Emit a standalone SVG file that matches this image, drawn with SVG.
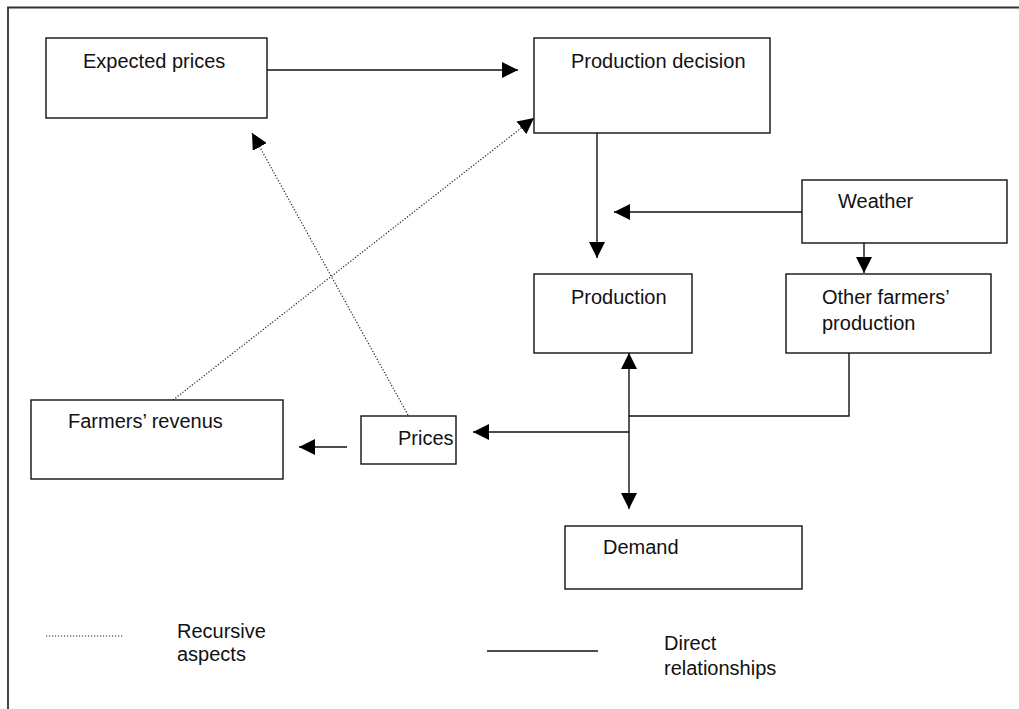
<svg xmlns="http://www.w3.org/2000/svg" width="1019" height="709" viewBox="0 0 1019 709">
<style>
  .box { fill: #fff; stroke: #111; stroke-width: 1.4; }
  .t { font-family: "Liberation Sans", Arial, sans-serif; font-size: 20px; fill: #111; }
  .solid { stroke: #111; stroke-width: 1.4; fill: none; }
  .dot { stroke: #222; stroke-width: 1.2; stroke-dasharray: 1.2 1.8; fill: none; }
  .frame { stroke: #333; stroke-width: 1.8; fill: none; }
</style>
<defs>
  <marker id="ah" markerUnits="userSpaceOnUse" viewBox="0 0 16 16" refX="16" refY="8" markerWidth="16" markerHeight="16" orient="auto">
    <path d="M0,0 L16,8 L0,16 z" fill="#000"/>
  </marker>
  <marker id="ahs" markerUnits="userSpaceOnUse" viewBox="0 0 16 16" refX="0" refY="8" markerWidth="16" markerHeight="16" orient="auto">
    <path d="M16,0 L0,8 L16,16 z" fill="#000"/>
  </marker>
</defs>
<rect width="1019" height="709" fill="#fff"/>
<path class="frame" d="M8,709 L8,7.5 L1019,7.5"/>

<g id="connectors">
  <line class="solid" x1="267" y1="70" x2="518" y2="70" marker-end="url(#ah)"/>
  <line class="solid" x1="597" y1="133" x2="597" y2="258" marker-end="url(#ah)"/>
  <line class="solid" x1="802" y1="212" x2="614" y2="212" marker-end="url(#ah)"/>
  <line class="solid" x1="864" y1="243" x2="864" y2="273" marker-end="url(#ah)"/>
  <polyline class="solid" points="849,353 849,416 629,416"/>
  <line class="solid" x1="629" y1="353" x2="629" y2="509" marker-start="url(#ahs)" marker-end="url(#ah)"/>
  <line class="solid" x1="629" y1="432" x2="473" y2="432" marker-end="url(#ah)"/>
  <line class="solid" x1="347" y1="447" x2="299" y2="447" marker-end="url(#ah)"/>
  <line class="dot" x1="173" y1="400" x2="534" y2="118" marker-end="url(#ah)"/>
  <line class="dot" x1="408" y1="415" x2="252" y2="133" marker-end="url(#ah)"/>
</g>

<g id="expected-prices">
  <rect class="box" x="46" y="38" width="221" height="80"/>
  <text class="t" x="83" y="68">Expected prices</text>
</g>
<g id="production-decision">
  <rect class="box" x="534" y="38" width="236" height="95"/>
  <text class="t" x="571" y="68">Production decision</text>
</g>
<g id="weather">
  <rect class="box" x="802" y="180" width="205" height="63"/>
  <text class="t" x="838" y="208">Weather</text>
</g>
<g id="production">
  <rect class="box" x="534" y="274" width="158" height="79"/>
  <text class="t" x="571" y="304">Production</text>
</g>
<g id="other-farmers-production">
  <rect class="box" x="786" y="274" width="205" height="79"/>
  <text class="t" x="822" y="304">Other farmers’</text>
  <text class="t" x="822" y="330">production</text>
</g>
<g id="farmers-revenus">
  <rect class="box" x="31" y="400" width="252" height="79"/>
  <text class="t" x="68" y="428">Farmers’ revenus</text>
</g>
<g id="prices">
  <rect class="box" x="361" y="416" width="95" height="48"/>
  <text class="t" x="398" y="445">Prices</text>
</g>
<g id="demand">
  <rect class="box" x="565" y="526" width="237" height="63"/>
  <text class="t" x="603" y="554">Demand</text>
</g>

<g id="legend">
  <line class="dot" x1="46" y1="636" x2="123" y2="636"/>
  <text class="t" x="177" y="638">Recursive</text>
  <text class="t" x="177" y="661">aspects</text>
  <line class="solid" x1="487" y1="651" x2="598" y2="651"/>
  <text class="t" x="664" y="650">Direct</text>
  <text class="t" x="664" y="675">relationships</text>
</g>
</svg>
